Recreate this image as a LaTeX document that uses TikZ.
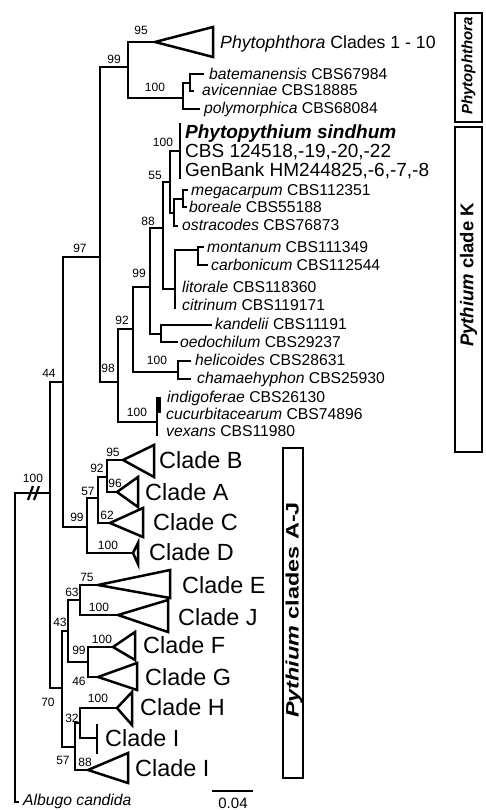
\documentclass[tikz,border=0pt]{standalone}
\usepackage{fontspec}
\setmainfont{Liberation Sans}
\newcommand{\sptx}[2]{\textit{#1} #2}
\begin{document}
\begin{tikzpicture}[x=1pt,y=-1pt,
  br/.style={line width=2.5pt, line cap=rect, line join=miter},
  tri/.style={line width=2.5pt, line join=miter},
  bs/.style={inner sep=0pt, font=\fontsize{12}{12}\selectfont, text height=8.6pt, text depth=0pt},
  sp/.style={anchor=west, inner sep=0pt, font=\fontsize{15.7}{16}\selectfont, text height=11.2pt, text depth=0pt},
  sd/.style={anchor=west, inner sep=0pt, font=\fontsize{19}{19}\selectfont, text height=13.6pt, text depth=0pt},
  cl/.style={anchor=west, inner sep=0pt, font=\fontsize{23.4}{24}\selectfont, text height=16.8pt, text depth=0pt},
  boxl/.style={draw, line width=1.6pt},
  vt/.style={rotate=90, inner sep=0pt, font=\bfseries}
]
\useasboundingbox (0,0) rectangle (486,810);
% ---------- internal nodes (x, stem y)
\coordinate (root) at (15,650);
\coordinate (ing) at (50,493);
\coordinate (n44) at (63,382);
\coordinate (n97) at (100,257);
\coordinate (n99t) at (128,67);
\coordinate (nbat) at (183,98);
\coordinate (nba) at (190,83);
\coordinate (n98) at (118,382);
\coordinate (nind) at (157,422);
\coordinate (n92) at (133,329);
\coordinate (nhel) at (178,372);
\coordinate (n99m) at (150,287);
\coordinate (nkan) at (161,334);
\coordinate (n88) at (163,228);
\coordinate (n55) at (170,182);
\coordinate (nsin) at (180,151);
\coordinate (nQ) at (174,213);
\coordinate (nMB) at (183,199);
\coordinate (nL) at (175,289);
\coordinate (nMC) at (198,250);
\coordinate (nAD) at (87,527);
\coordinate (n57) at (98,498);
\coordinate (n92b) at (107,477);
\coordinate (n70) at (62,688);
\coordinate (n43) at (68,631);
\coordinate (n63) at (80,600);
\coordinate (n99fg) at (88,662);
\coordinate (n57b) at (75,747);
\coordinate (n32) at (80,723);
\coordinate (nI1) at (97,738);
% ---------- tips
\coordinate (tPh) at (155,42);
\coordinate (tbat) at (203,74);
\coordinate (tavi) at (193,91);
\coordinate (tpol) at (199,109);
\coordinate (tmeg) at (187,190);
\coordinate (tbor) at (186,207);
\coordinate (tost) at (177,226);
\coordinate (tmon) at (203,247);
\coordinate (tcar) at (207,265);
\coordinate (tcit) at (175,308);
\coordinate (tkan) at (211,325);
\coordinate (toed) at (177,342);
\coordinate (thel) at (190,361);
\coordinate (tcha) at (190,379);
\coordinate (tB) at (123,460);
\coordinate (tA) at (117,492);
\coordinate (tC) at (110,523);
\coordinate (tD) at (133,553);
\coordinate (tE) at (98,585);
\coordinate (tJ) at (118,615);
\coordinate (tF) at (113,647);
\coordinate (tG) at (98,677);
\coordinate (tH) at (117,708);
\coordinate (tI2) at (88,770);
\coordinate (talb) at (18,802);
% ---------- branches
\draw[br] (root) |- (ing); \draw[br] (root) |- (talb);
\draw[br] (ing) |- (n44); \draw[br] (ing) |- (n70);
\draw[br] (n44) |- (n97); \draw[br] (n44) |- (nAD);
\draw[br] (n97) |- (n99t); \draw[br] (n97) |- (n98);
\draw[br] (n99t) |- (tPh); \draw[br] (n99t) |- (nbat);
\draw[br] (nbat) |- (nba); \draw[br] (nbat) |- (tpol);
\draw[br] (nba) |- (tbat); \draw[br] (nba) |- (tavi);
\draw[br] (n98) |- (n92); \draw[br] (n98) |- (nind);
\draw[br] (157,398) -- (157,435); \draw[br] (159.5,398) -- (159.5,412);
\draw[br] (n92) |- (n99m); \draw[br] (n92) |- (nhel);
\draw[br] (nhel) |- (thel); \draw[br] (nhel) |- (tcha);
\draw[br] (n99m) |- (n88); \draw[br] (n99m) |- (nkan);
\draw[br] (nkan) |- (tkan); \draw[br] (nkan) |- (toed);
\draw[br] (n88) |- (n55); \draw[br] (n88) |- (nL);
\draw[br] (n55) |- (nsin); \draw[br] (n55) |- (nQ);
\draw[br] (180,124) -- (180,178);
\draw[br] (nQ) |- (nMB); \draw[br] (nQ) |- (tost);
\draw[br] (nMB) |- (tmeg); \draw[br] (nMB) |- (tbor);
\draw[br] (nL) |- (nMC); \draw[br] (nL) -- (tcit);
\draw[br] (nMC) |- (tmon); \draw[br] (nMC) |- (tcar);
\draw[br] (nAD) |- (n57); \draw[br] (nAD) |- (tD);
\draw[br] (n57) |- (n92b); \draw[br] (n57) |- (tC);
\draw[br] (n92b) |- (tB); \draw[br] (n92b) |- (tA);
\draw[br] (n70) |- (n43); \draw[br] (n70) |- (n57b);
\draw[br] (n43) |- (n63); \draw[br] (n43) |- (n99fg);
\draw[br] (n63) |- (tE); \draw[br] (n63) |- (tJ);
\draw[br] (n99fg) |- (tF); \draw[br] (n99fg) |- (tG);
\draw[br] (n57b) |- (n32); \draw[br] (n57b) |- (tI2);
\draw[br] (n32) |- (tH); \draw[br] (n32) |- (nI1);
\draw[br] (97,725) -- (97,753);
% break mark
\draw[line width=2.2pt] (28,500) -- (33,486) (34,500) -- (39,486);
% ---------- collapsed triangles
\draw[tri] (tPh) -- (213,27) -- (213,57) -- cycle;
\draw[tri] (tB) -- (154,445) -- (154,477) -- cycle;
\draw[tri] (tA) -- (138,477) -- (138,507) -- cycle;
\draw[tri] (tC) -- (143,508) -- (143,537) -- cycle;
\draw[tri] (tD) -- (138,543) -- (138,564) -- cycle;
\draw[tri] (tE) -- (170,570) -- (170,598) -- cycle;
\draw[tri] (tJ) -- (168,600) -- (168,632) -- cycle;
\draw[tri] (tF) -- (135,632) -- (135,660) -- cycle;
\draw[tri] (tG) -- (137,663) -- (137,690) -- cycle;
\draw[tri] (tH) -- (132,692) -- (132,725) -- cycle;
\draw[tri] (tI2) -- (128,753) -- (128,783) -- cycle;
% ---------- support values
\node[bs] (b1) at (141,30) {95};
\node[bs] (b2) at (114,59) {99};
\node[bs] (b3) at (155,87) {100};
\node[bs] (b4) at (163,142) {100};
\node[bs] (b5) at (155,175) {55};
\node[bs] (b6) at (148,221) {88};
\node[bs] (b7) at (139,273) {99};
\node[bs] (b8) at (122,320) {92};
\node[bs] (b9) at (157,360) {100};
\node[bs] (b10) at (108,368) {98};
\node[bs] (b11) at (80,248) {97};
\node[bs] (b12) at (137,412) {100};
\node[bs] (b13) at (49,373) {44};
\node[bs] (b14) at (33,478) {100};
\node[bs] (b15) at (113,452) {95};
\node[bs] (b16) at (97,468) {92};
\node[bs] (b17) at (115,483) {96};
\node[bs] (b18) at (88,491) {57};
\node[bs] (b19) at (107,515) {62};
\node[bs] (b20) at (77,517) {99};
\node[bs] (b21) at (108,545) {100};
\node[bs] (b22) at (87,577) {75};
\node[bs] (b23) at (72,592) {63};
\node[bs] (b24) at (99,607) {100};
\node[bs] (b25) at (60,622) {43};
\node[bs] (b26) at (102,639) {100};
\node[bs] (b27) at (79,650) {99};
\node[bs] (b28) at (79,681) {46};
\node[bs] (b29) at (98,698) {100};
\node[bs] (b30) at (48,702) {70};
\node[bs] (b31) at (72,718) {32};
\node[bs] (b32) at (63,760) {57};
\node[bs] (b33) at (85,762) {88};
% ---------- taxon labels
\node[anchor=west, inner sep=0pt, font=\fontsize{17.7}{18}\selectfont, text height=12.7pt, text depth=0pt] (lPh) at (220,42) {\textit{Phytophthora} Clades 1 - 10};
\node[sp] (lbat) at (209,74) {\sptx{batemanensis}{CBS67984}};
\node[sp] (lavi) at (202,90) {\sptx{avicenniae}{CBS18885}};
\node[sp] (lpol) at (204,108) {\sptx{polymorphica}{CBS68084}};
\node[sd] (lsin) at (185,132) {\textbf{\textit{Phytopythium sindhum}}};
\node[sd] (lcbs) at (185,151) {CBS 124518,-19,-20,-22};
\node[sd] (lgen) at (185,170) {GenBank HM244825,-6,-7,-8};
\node[sp] (lmeg) at (191,190) {\sptx{megacarpum}{CBS112351}};
\node[sp] (lbor) at (189,207) {\sptx{boreale}{CBS55188}};
\node[sp] (lost) at (182,225) {\sptx{ostracodes}{CBS76873}};
\node[sp] (lmon) at (207,247) {\sptx{montanum}{CBS111349}};
\node[sp] (lcar) at (211,265) {\sptx{carbonicum}{CBS112544}};
\node[sp] (llit) at (182,287) {\sptx{litorale}{CBS118360}};
\node[sp] (lcit) at (182,305) {\sptx{citrinum}{CBS119171}};
\node[sp] (lkan) at (215,324) {\sptx{kandelii}{CBS11191}};
\node[sp] (loed) at (180,342) {\sptx{oedochilum}{CBS29237}};
\node[sp] (lhel) at (195,360) {\sptx{helicoides}{CBS28631}};
\node[sp] (lcha) at (197,378) {\sptx{chamaehyphon}{CBS25930}};
\node[sp] (lind) at (167,397) {\sptx{indigoferae}{CBS26130}};
\node[sp] (lcuc) at (166,414) {\sptx{cucurbitacearum}{CBS74896}};
\node[sp] (lvex) at (166,431) {\sptx{vexans}{CBS11980}};
\node[cl] (lB) at (159,460) {Clade B};
\node[cl] (lA) at (145,492) {Clade A};
\node[cl] (lC) at (153,522) {Clade C};
\node[cl] (lD) at (149,552) {Clade D};
\node[cl] (lE) at (182,585) {Clade E};
\node[cl] (lJ) at (178,617) {Clade J};
\node[cl] (lF) at (143,645) {Clade F};
\node[cl] (lG) at (145,677) {Clade G};
\node[cl] (lH) at (140,707) {Clade H};
\node[cl] (lI1) at (105,738) {Clade I};
\node[cl] (lI2) at (135,768) {Clade I};
\node[sp] (lalb) at (23,800) {\textit{Albugo candida}};
% ---------- scale bar
\coordinate (sb1) at (212,791); \coordinate (sb2) at (253,791);
\draw[line width=2.2pt] (sb1) -- (sb2);
\node[inner sep=0pt, font=\fontsize{15}{15}\selectfont, text height=10.7pt, text depth=0pt] (sbl) at (233,803) {0.04};
% ---------- group boxes
\node[boxl, minimum width=27pt, minimum height=109pt, inner sep=0pt] (bxP) at (468.5,67.5) {};
\node[vt, font=\fontsize{15}{15}\selectfont\bfseries\itshape] (tP) at (468.5,66) {Phytophthora};
\node[boxl, minimum width=27pt, minimum height=325pt, inner sep=0pt] (bxK) at (468.5,289.5) {};
\node[vt, font=\fontsize{18.5}{18.5}\selectfont\bfseries] (tK) at (468.5,275) {\textit{Pythium} clade K};
\node[boxl, minimum width=20pt, minimum height=330pt, inner sep=0pt] (bxAJ) at (293,613) {};
\node[vt, font=\fontsize{18}{18}\selectfont\bfseries] (tAJ) at (294,610) {\scalebox{1.3}[1]{\textit{Pythium} clades A-J}};
\end{tikzpicture}
\end{document}
